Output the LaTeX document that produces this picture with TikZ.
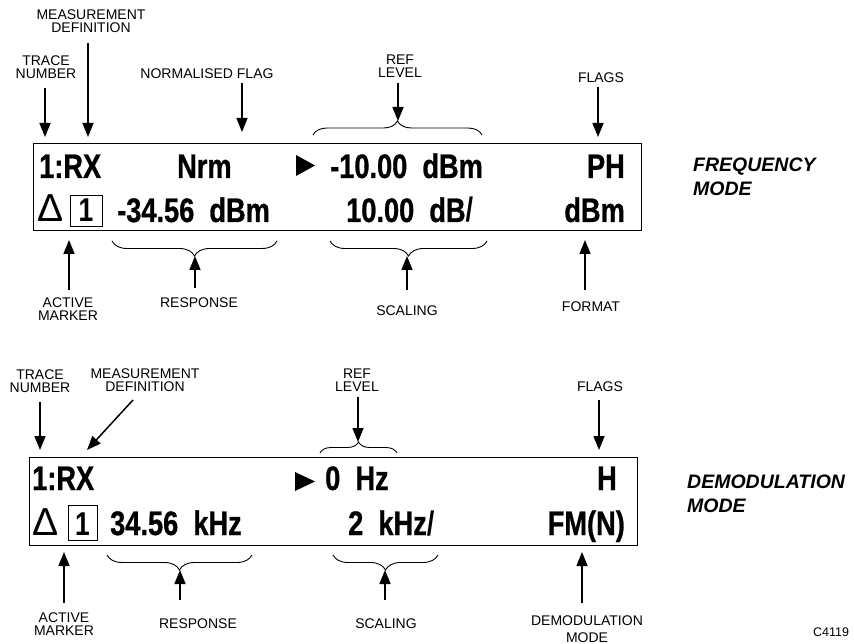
\documentclass[tikz,border=0pt]{standalone}
\usepackage{fontspec}
\setmainfont{Liberation Sans}
\newfontfamily\dispfont[FakeStretch=0.8, FakeBold=0.8]{Liberation Sans Bold}
\newfontfamily\dispone[FakeStretch=0.8]{Liberation Sans Bold}
\usetikzlibrary{arrows.meta,decorations.pathreplacing}
\begin{document}
\begin{tikzpicture}[x=1pt,y=-1pt,
  lbl/.style={font=\fontsize{14}{13}\selectfont, align=center, inner sep=0pt},
  modelbl/.style={font=\fontsize{19.5}{24}\selectfont\bfseries\itshape, align=left, inner sep=0pt, anchor=north west},
  disp/.style={font=\dispfont\fontsize{34}{34}\selectfont, inner sep=0pt},
  dispreg/.style={font=\dispone\fontsize{33}{33}\selectfont, inner sep=0pt},
  deltasym/.style={font=\fontsize{39}{39}\selectfont, inner sep=0pt, anchor=base west},
  arr/.style={line width=1.5pt, -{Triangle[length=14pt,width=11pt]}},
  brc/.style={decorate, decoration={brace, amplitude=#1}, line width=0.9pt},
  panel/.style={draw, line width=1pt},
  mkbox/.style={draw, line width=0.8pt}
]
\useasboundingbox (0,0) rectangle (854,644);

% ================= FREQUENCY MODE =================
\draw[panel] (33,144) rectangle (641,231);
\node[disp, anchor=base west] (f1rx) at (39,178) {1:RX};
\node[disp, anchor=base west] (fnrm) at (177,178) {Nrm};
\fill (296,155) -- (296,176) -- (315,165.5) -- cycle;
\node[disp, anchor=base west] (fref) at (330,178) {-10.00~~dBm};
\node[disp, anchor=base east] (fph) at (625,178) {PH};
\node[deltasym] (fdelta) at (37,222) {Δ};
\draw[mkbox] (70,195) rectangle (102,226);
\node[dispreg, anchor=base] (fone) at (86,222) {1};
\node[disp, anchor=base west] (fresp) at (117,222) {-34.56~~dBm};
\node[disp, anchor=base west] (fscal) at (346,222) {10.00~~dB{\dispone/}};
\node[disp, anchor=base east] (fdbm) at (625,222) {dBm};

\node[modelbl] (fmode) at (693,158) {FREQUENCY\\MODE};

% top labels
\node[lbl] (fmd) at (91,21.5) {MEASUREMENT\\DEFINITION};
\node[lbl] (ftrace) at (46,67.5) {TRACE\\NUMBER};
\node[lbl] (fnorm) at (207,74) {NORMALISED FLAG};
\node[lbl] (freflbl) at (400,66) {REF\\LEVEL};
\node[lbl] (fflags) at (601,77.5) {FLAGS};

\coordinate (ftraceA) at (45,88);   \coordinate (ftraceB) at (45,137);
\coordinate (fmdA) at (88,43);      \coordinate (fmdB) at (88,137);
\coordinate (fnormA) at (242,83);   \coordinate (fnormB) at (242,132);
\coordinate (frefA) at (398,83);    \coordinate (frefB) at (398,121);
\coordinate (fflagA) at (598,87);   \coordinate (fflagB) at (598,137);
\draw[arr] (ftraceA) -- (ftraceB);
\draw[arr] (fmdA) -- (fmdB);
\draw[arr] (fnormA) -- (fnormB);
\draw[arr] (frefA) -- (frefB);
\draw[arr] (fflagA) -- (fflagB);
\draw[brc=14pt] (313,135) -- (482,135);

% bottom labels
\node[lbl] (factive) at (68,309.5) {ACTIVE\\MARKER};
\node[lbl] (fresplbl) at (199,303) {RESPONSE};
\node[lbl] (fscallbl) at (407,310.5) {SCALING};
\node[lbl] (fformat) at (591,307) {FORMAT};

\coordinate (factA) at (69,290);   \coordinate (factB) at (69,240);
\coordinate (frespA) at (195,288); \coordinate (frespB) at (195,256);
\coordinate (fscalA) at (407,290); \coordinate (fscalB) at (407,256);
\coordinate (fformA) at (585,290); \coordinate (fformB) at (585,240);
\draw[arr] (factA) -- (factB);
\draw[arr] (frespA) -- (frespB);
\draw[arr] (fscalA) -- (fscalB);
\draw[arr] (fformA) -- (fformB);
\draw[brc=15pt] (277,241) -- (112,241);
\draw[brc=15pt] (487,241) -- (330,241);

% ================= DEMODULATION MODE =================
\draw[panel] (29,457) rectangle (637,545);
\node[disp, anchor=base west] (d1rx) at (32,490) {1:RX};
\fill (295,472) -- (295,491) -- (315,481.5) -- cycle;
\node[disp, anchor=base west] (dref) at (325,490) {0~~Hz};
\node[disp, anchor=base east] (dh) at (617,490) {H};
\node[deltasym] (ddelta) at (32,535) {Δ};
\draw[mkbox] (68,505) rectangle (97,540);
\node[dispreg, anchor=base] (done) at (82.5,535) {1};
\node[disp, anchor=base west] (dresp) at (110,535) {34.56~~kHz};
\node[disp, anchor=base west] (dscal) at (348,535) {2~~kHz{\dispone/}};
\node[disp, anchor=base east] (dfm) at (625,535) {FM(N)};

\node[modelbl] (dmode) at (687,475) {DEMODULATION\\MODE};

% top labels
\node[lbl] (dtrace) at (40,381.5) {TRACE\\NUMBER};
\node[lbl] (dmd) at (145,380.5) {MEASUREMENT\\DEFINITION};
\node[lbl] (dreflbl) at (357,380.5) {REF\\LEVEL};
\node[lbl] (dflags) at (600,387) {FLAGS};

\coordinate (dtraceA) at (40,402);  \coordinate (dtraceB) at (40,450);
\coordinate (dmdA) at (133,400);    \coordinate (dmdB) at (87,450);
\coordinate (drefA) at (358,397);   \coordinate (drefB) at (358,442);
\coordinate (dflagA) at (599,400);  \coordinate (dflagB) at (599,450);
\draw[arr] (dtraceA) -- (dtraceB);
\draw[arr] (dmdA) -- (dmdB);
\draw[arr] (drefA) -- (drefB);
\draw[arr] (dflagA) -- (dflagB);
\draw[brc=11pt] (320,453) -- (397,453);

% bottom labels
\node[lbl] (dactive) at (64,624) {ACTIVE\\MARKER};
\node[lbl] (dresplbl) at (198,624) {RESPONSE};
\node[lbl] (dscallbl) at (386,624) {SCALING};
\node[lbl, font=\fontsize{14}{17}\selectfont] (ddemod) at (587,629) {DEMODULATION\\MODE};
\node[lbl, font=\fontsize{12.5}{13}\selectfont] (code) at (831,632) {C4119};

\coordinate (dactA) at (64,603);   \coordinate (dactB) at (64,552);
\coordinate (drespA) at (180,600); \coordinate (drespB) at (180,570);
\coordinate (dscalA) at (385,600); \coordinate (dscalB) at (385,570);
\coordinate (ddemA) at (582,603);  \coordinate (ddemB) at (582,552);
\draw[arr] (dactA) -- (dactB);
\draw[arr] (drespA) -- (drespB);
\draw[arr] (dscalA) -- (dscalB);
\draw[arr] (ddemA) -- (ddemB);
\draw[brc=15pt] (252,555) -- (107,555);
\draw[brc=15pt] (438,555) -- (333,555);
\end{tikzpicture}
\end{document}
